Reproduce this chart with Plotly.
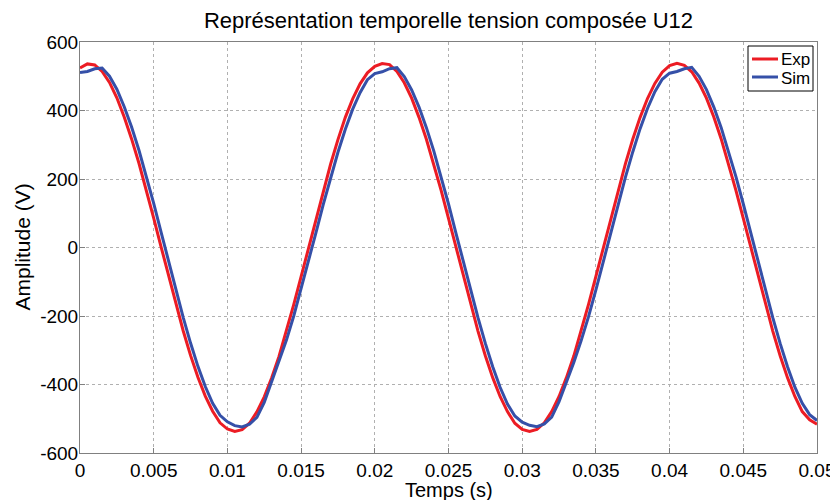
import plotly.graph_objects as go

# time axis (s), sampled every 0.5 ms
time_s = [round(i * 0.0005, 4) for i in range(101)]

exp_v = [524, 536, 533, 514, 482, 437, 381, 317, 246, 168,
         86, 2, -82, -164, -243, -315, -379, -434, -478, -512,
         -530, -537, -532, -513, -480, -436, -381, -318, -246, -167,
         -85, -1, 83, 165, 243, 315, 380, 434, 478, 510,
         529, 537, 534, 514, 481, 436, 380, 316, 245, 167,
         85, 1, -83, -165, -244, -316, -380, -435, -479, -513,
         -531, -537, -531, -512, -479, -435, -380, -317, -245, -166,
         -84, 0, 84, 166, 244, 316, 380, 435, 479, 512,
         531, 538, 532, 513, 480, 436, 381, 317, 245, 167,
         85, 1, -83, -165, -244, -316, -380, -435, -479, -503,
         -516]

sim_v = [511, 514, 522, 524, 500, 462, 411, 352, 284, 209,
         129, 45, -40, -124, -204, -279, -347, -406, -455, -490,
         -509, -520, -524, -516, -496, -452, -392, -335, -271, -200,
         -122, -40, 42, 125, 204, 278, 345, 404, 452, 490,
         508, 513, 522, 525, 499, 460, 410, 350, 282, 207,
         127, 43, -41, -125, -205, -280, -348, -408, -457, -492,
         -510, -519, -523, -515, -495, -450, -393, -336, -272, -202,
         -124, -41, 41, 124, 205, 279, 347, 406, 455, 491,
         509, 514, 522, 526, 500, 461, 410, 350, 282, 207,
         127, 43, -41, -125, -205, -280, -348, -408, -455, -488,
         -505]

series_names = ["Exp", "Sim"]
series_colors = ["#ec1c24", "#3550a8"]

x_ticks = [0, 0.005, 0.01, 0.015, 0.02, 0.025, 0.03, 0.035, 0.04, 0.045, 0.05]
x_tick_labels = ["0", "0.005", "0.01", "0.015", "0.02", "0.025", "0.03", "0.035", "0.04", "0.045", "0.05"]
y_ticks = [-600, -400, -200, 0, 200, 400, 600]
y_tick_labels = ["-600", "-400", "-200", "0", "200", "400", "600"]

FONT = "Liberation Sans, Arial, sans-serif"

# the page body has an 8px margin, so the figure is sized to fill the window
W, H = 830, 492
ML, MR, MT, MB = 72, 21, 34, 47
PW, PH = W - ML - MR, H - MT - MB


def px_x(p):  # window pixel -> paper x of plot area
    return (p - 8 - ML) / PW


def px_y(p):  # window pixel -> paper y of plot area
    return (H - MB - (p - 8)) / PH


fig = go.Figure()
for name, vals, col in zip(series_names, [exp_v, sim_v], series_colors):
    fig.add_trace(go.Scatter(x=time_s, y=vals, mode="lines", name=name,
                             line=dict(color=col, width=3), showlegend=False))

axis_common = dict(showline=True, mirror=True, linecolor="#808080", linewidth=1,
                   showgrid=True, gridcolor="#b0b0b0", griddash="dot", gridwidth=1,
                   ticks="inside", ticklen=5, tickcolor="#808080",
                   zeroline=False, automargin=False,
                   tickfont=dict(size=19, color="black", family=FONT))

fig.update_xaxes(range=[0, 0.05], tickvals=x_ticks, ticktext=x_tick_labels, **axis_common)
fig.update_yaxes(range=[-600, 600], tickvals=y_ticks, ticktext=y_tick_labels,
                 ticklabelstandoff=-3, **axis_common)

shapes = [dict(type="rect", xref="paper", yref="paper",
               x0=px_x(748), x1=px_x(813), y0=px_y(91), y1=px_y(46),
               line=dict(color="black", width=1), fillcolor="white", layer="above")]
annotations = [
    dict(text="Temps (s)", xref="paper", yref="paper", x=0.5, y=px_y(490),
         xanchor="center", yanchor="middle", showarrow=False,
         font=dict(size=20, color="black", family=FONT)),
    dict(text="Amplitude (V)", xref="paper", yref="paper", x=px_x(22), y=0.5,
         xanchor="center", yanchor="middle", showarrow=False, textangle=-90,
         font=dict(size=21, color="black", family=FONT)),
]
for i, (name, col) in enumerate(zip(series_names, series_colors)):
    yy = 59 + i * 18
    shapes.append(dict(type="line", xref="paper", yref="paper",
                       x0=px_x(752), x1=px_x(778), y0=px_y(yy), y1=px_y(yy),
                       line=dict(color=col, width=3), layer="above"))
    annotations.append(dict(text=name, xref="paper", yref="paper", x=px_x(779), y=px_y(yy + 1),
                            xanchor="left", yanchor="middle", showarrow=False,
                            font=dict(size=17, color="black", family=FONT)))

fig.update_layout(
    width=W, height=H,
    margin=dict(l=ML, r=MR, t=MT, b=MB),
    paper_bgcolor="white", plot_bgcolor="white",
    font=dict(family=FONT, color="black"),
    title=dict(text="Représentation temporelle tension composée U12",
               x=0.5, xanchor="center", xref="paper",
               y=1 - (20 - 8) / H, yanchor="middle",
               font=dict(size=22, color="black", family=FONT)),
    showlegend=False,
    shapes=shapes,
    annotations=annotations,
)

fig.write_html("out.html")
